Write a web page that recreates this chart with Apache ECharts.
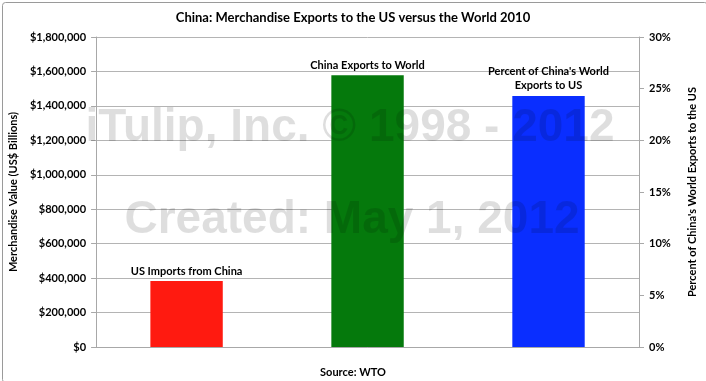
<!DOCTYPE html>
<html><head><meta charset="utf-8">
<script src="https://cdn.jsdelivr.net/npm/echarts@6/dist/echarts.min.js"></script>
<style>html,body{margin:0;padding:0;background:#fff}#c{width:706px;height:381px}</style>
</head><body><div id="c"></div>
<script>
const categories = ["US Imports from China", "China Exports to World", "Percent of China's World\nExports to US"];
const valueSeries = [383000, 1578000, null];   // US$ (left axis)
const percentSeries = [null, null, 24.3];        // % (right axis)
const barColors = ["#ff1a10", "#05790c", "#0a2eff"];
const leftTicks = [0, 200000, 400000, 600000, 800000, 1000000, 1200000, 1400000, 1600000, 1800000];
const rightTicks = [0, 5, 10, 15, 20, 25, 30];

const FONT = "Lato, 'Open Sans', sans-serif";
const chart = echarts.init(document.getElementById('c'), null, {renderer: 'canvas'});
const lbl = {show: true, position: 'top', distance: 3, color: '#000', fontWeight: 'bold', fontSize: 11, fontFamily: FONT, lineHeight: 14,
  formatter: p => categories[p.dataIndex]};
chart.setOption({
  animation: false,
  backgroundColor: '#fff',
  title: [{text: 'China: Merchandise Exports to the US versus the World 2010', left: 'center', top: 6,
    textStyle: {fontSize: 13, fontWeight: 'bold', color: '#000', fontFamily: FONT}},
    {text: 'Source: WTO', left: 'center', top: 362, textStyle: {fontSize: 11, fontWeight: 'bold', color: '#000', fontFamily: FONT}}],
  grid: {left: 94, right: 61, top: 37, bottom: 34, containLabel: false},
  xAxis: {type: 'category', data: categories, axisLabel: {show: false}, axisTick: {show: false},
    axisLine: {lineStyle: {color: '#a8a8a8'}}},
  yAxis: [
    {type: 'value', min: 0, max: 1800000, interval: 200000, name: 'Merchandise Value (US$ Billions)',
      nameLocation: 'middle', nameGap: 64, nameRotate: 90,
      nameTextStyle: {fontSize: 11, fontWeight: 'bold', color: '#000', fontFamily: FONT},
      axisLine: {show: true, lineStyle: {color: '#a8a8a8'}}, axisTick: {show: true, length: 5, lineStyle: {color: '#a8a8a8'}},
      splitLine: {lineStyle: {color: '#b4b4b4'}},
      axisLabel: {margin: 10, fontSize: 11, fontWeight: 'bold', color: '#000', fontFamily: FONT,
        formatter: v => '$' + v.toLocaleString('en-US')}},
    {type: 'value', min: 0, max: 30, interval: 5, name: "Percent of China's World Exports to the US",
      nameLocation: 'middle', nameGap: 48, nameRotate: 90,
      nameTextStyle: {fontSize: 11, fontWeight: 'bold', color: '#000', fontFamily: FONT},
      axisLine: {show: true, lineStyle: {color: '#a8a8a8'}}, axisTick: {show: true, length: 5, lineStyle: {color: '#a8a8a8'}},
      splitLine: {show: false},
      axisLabel: {margin: 10, fontSize: 11, fontWeight: 'bold', color: '#000', fontFamily: FONT, formatter: v => v + '%'}}
  ],
  series: [
    {type: 'bar', yAxisIndex: 0, barWidth: '40%', barGap: '-100%',
      data: valueSeries.map((v, i) => v == null ? '-' : {value: v, itemStyle: {color: barColors[i]}}), label: lbl},
    {type: 'bar', yAxisIndex: 1, barWidth: '40%', barGap: '-100%',
      data: percentSeries.map((v, i) => v == null ? '-' : {value: v, itemStyle: {color: barColors[i]}}), label: lbl}
  ],
  graphic: [
    {type: 'rect', left: 0, top: 0, z: 100, shape: {x: 0.5, y: 0.5, width: 705, height: 380, r: 3}, style: {fill: 'none', stroke: '#9a9a9a', lineWidth: 1}},
    {type: 'text', z: 100, x: 350, y: 128, style: {text: 'iTulip, Inc. © 1998 - 2012', align: 'center', verticalAlign: 'middle',
      font: 'bold 46px "Liberation Sans", Arial, sans-serif', fill: 'rgba(0,0,0,0.13)'}},
    {type: 'text', z: 100, x: 352, y: 220, style: {text: 'Created: May 1, 2012', align: 'center', verticalAlign: 'middle',
      font: 'bold 46px "Liberation Sans", Arial, sans-serif', fill: 'rgba(0,0,0,0.13)'}}
  ]
});
</script></body></html>
